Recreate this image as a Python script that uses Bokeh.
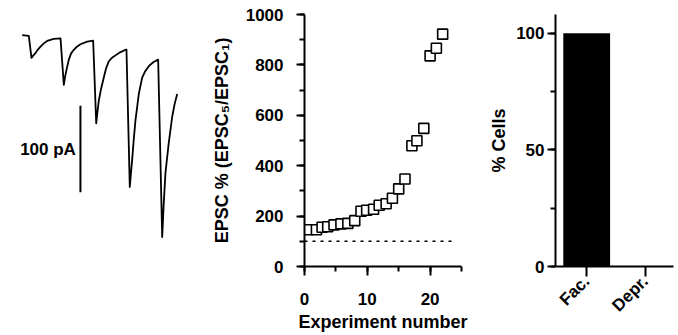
import math
from bokeh.plotting import figure
from bokeh.layouts import row
from bokeh.models import Range1d, SingleIntervalTicker, FixedTicker
from bokeh.core.properties import value
from bokeh.embed import file_html
from bokeh.resources import INLINE

FONT = "Liberation Sans"

# ---------------- data ----------------
# Panel 1: current trace (time in ms, current in pA)
trace_t = [-9.7, 0.5, 4.6, 7.5, 10.8, 14.5, 18.5, 23.5, 28.8, 39, 49.3,
           54.4, 56.2, 58.1, 62.1, 65.5, 69.8, 74.5, 80.1, 90.4, 99.6,
           104.3, 106.2, 108.3, 112, 116, 119.5, 123.7, 128.5, 134, 141, 149.4,
           150.9, 156, 157.8, 159.7, 162.2, 164.8, 169.9, 175.1, 180, 185.3, 192, 199.7,
           205.9, 208.3, 211, 216, 221.3, 225, 229]
trace_i = [0, -0.8, -26.5, -23.5, -20.8, -16.8, -13.3, -9.6, -6.8, -4.5, -3.7,
           -57.6, -49, -41.7, -28.4, -21.5, -17, -13.5, -10.6, -7.6, -6.5,
           -102.2, -89, -75.8, -61.5, -49.2, -38.5, -30.3, -26.3, -23.5, -20, -17,
           -17, -176, -160, -144, -120, -98.5, -68, -49.2, -41.5, -36, -31.5, -28.4,
           -234, -195, -159, -125, -94.6, -80, -68.2]
scalebar_t = 80
scalebar_i = [-82, -182]
scalebar_label = "100 pA"

# Panel 2: EPSC5/EPSC1 per experiment
experiment = [0.5, 1.9, 2.8, 3.7, 4.7, 5.8, 6.9, 8.0, 9.0, 9.9, 11.0, 11.9, 13.0, 14.0, 15.0,
              16.0, 17.1, 17.9, 19.0, 20.0, 21.0, 22.0]
epsc_pct = [146, 146, 156, 158, 165, 169, 171, 182, 219, 223, 227, 243, 249, 271, 308,
            347, 479, 499, 548, 836, 866, 922]
baseline_pct = 100
baseline_x = [0, 24]

# Panel 3: % cells
cell_cats = ["Fac.", "Depr."]
cell_pct = [100, 0]

H = 334
TOP = 14
BOT = H - 271

# ---------------- panel 1: trace ----------------
p1 = figure(width=200, height=H, output_backend="svg", toolbar_location=None,
            x_range=Range1d(-43.1, 264.9),
            y_range=Range1d(-(271 - 35) * 1.136, (35 - TOP) * 1.136),
            x_axis_location=None, y_axis_location=None,
            min_border_left=0, min_border_right=0, min_border_top=TOP, min_border_bottom=BOT)
p1.outline_line_color = None
p1.grid.visible = False
p1.line(trace_t, trace_i, line_color="black", line_width=1.8, line_join="round")
p1.line([scalebar_t, scalebar_t], scalebar_i, line_color="black", line_width=2)
p1.text(x=[scalebar_t - 7], y=[(scalebar_i[0] + scalebar_i[1]) / 2], text=[scalebar_label],
        text_align="right", text_baseline="middle", text_font=value(FONT),
        text_font_style="bold", text_font_size="17px", text_color="black")

# ---------------- panel 2: scatter ----------------
p2 = figure(width=286, height=H, output_backend="svg", toolbar_location=None,
            x_range=Range1d(0, 25), y_range=Range1d(0, 1000),
            min_border_left=104, min_border_right=25, min_border_top=TOP,
            min_border_bottom=BOT)
p2.outline_line_color = None
p2.grid.visible = False
p2.segment(x0=[baseline_x[0]], x1=[baseline_x[1]], y0=[baseline_pct], y1=[baseline_pct],
           line_color="black", line_width=1.5, line_dash="3 5")
p2.scatter(experiment, epsc_pct, marker="square", size=10, fill_color="white",
           line_color="black", line_width=1.6)
p2.xaxis.ticker = SingleIntervalTicker(interval=10, num_minor_ticks=2)
p2.yaxis.ticker = SingleIntervalTicker(interval=200, num_minor_ticks=2)
p2.xaxis.axis_label = "Experiment number"
p2.yaxis.axis_label = "EPSC % (EPSC\u2085/EPSC\u2081)"

# ---------------- panel 3: bars ----------------
cat_pos = [i + 1 for i in range(len(cell_cats))]
p3 = figure(width=191, height=H, output_backend="svg", toolbar_location=None,
            x_range=Range1d(0.467, 2.483), y_range=Range1d(0, 108),
            min_border_left=66, min_border_right=4, min_border_top=TOP,
            min_border_bottom=BOT)
p3.outline_line_color = None
p3.grid.visible = False
p3.vbar(x=cat_pos, top=cell_pct, width=0.8, bottom=0, fill_color="black", line_color=None)
p3.xaxis.ticker = FixedTicker(ticks=cat_pos, minor_ticks=[])
p3.xaxis.major_label_overrides = {pos: c for pos, c in zip(cat_pos, cell_cats)}
p3.xaxis.major_label_orientation = math.pi / 4
p3.yaxis.ticker = SingleIntervalTicker(interval=50, num_minor_ticks=2)
p3.yaxis.axis_label = "% Cells"

for p in (p2, p3):
    for ax in (p.xaxis[0], p.yaxis[0]):
        ax.axis_line_width = 2
        ax.axis_line_color = "black"
        ax.major_tick_line_width = 2
        ax.minor_tick_line_width = 2
        ax.major_tick_line_color = "black"
        ax.minor_tick_line_color = "black"
        ax.major_tick_in = 0
        ax.minor_tick_in = 0
        ax.major_tick_out = 8
        ax.minor_tick_out = 5
        ax.major_label_text_font = FONT
        ax.major_label_text_font_style = "bold"
        ax.major_label_text_font_size = "17px"
        ax.major_label_text_color = "black"
        ax.axis_label_text_font = FONT
        ax.axis_label_text_font_style = "bold"
        ax.axis_label_text_font_size = "18px"
        ax.axis_label_text_color = "black"

p2.xaxis.major_tick_out = 9
p2.xaxis.major_label_standoff = 17
p2.xaxis.axis_label_standoff = 4
p2.yaxis.major_label_standoff = 13
p2.yaxis.axis_label_standoff = 11
p3.xaxis.major_tick_out = 10
p3.xaxis.major_label_standoff = 2
p3.yaxis.major_label_standoff = 3
p3.yaxis.axis_label_standoff = 4

layout = row(p1, p2, p3)
open("out.html", "w").write(file_html(layout, INLINE))
